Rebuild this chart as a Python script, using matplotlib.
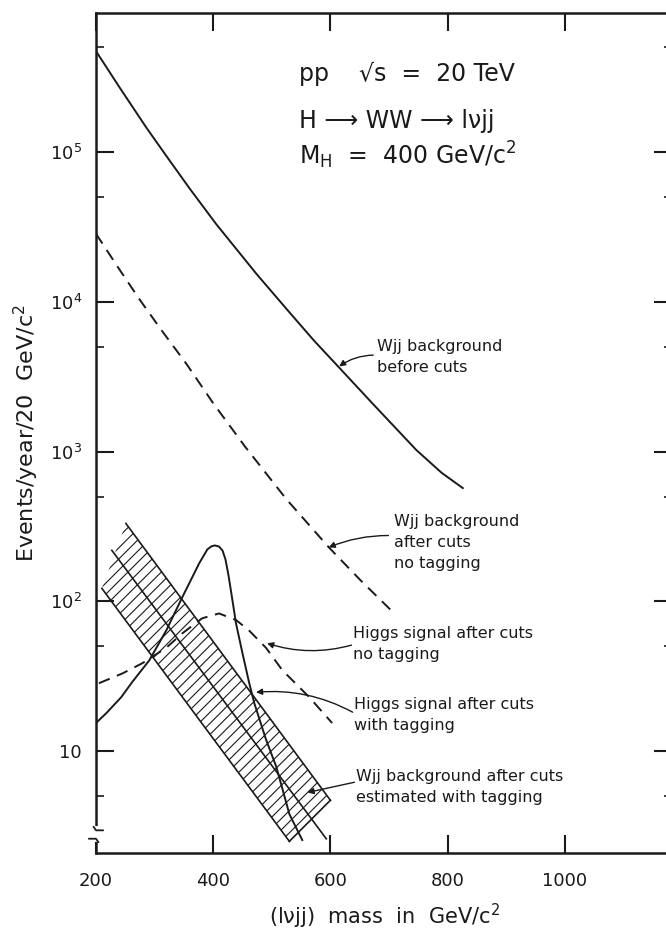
import numpy as np
import matplotlib
matplotlib.use("Agg")
import matplotlib.pyplot as plt
from matplotlib.ticker import FixedLocator, NullFormatter

# --- data (mass in GeV/c^2, events/year/20 GeV/c^2) ---
bg_before_mass = [200, 240, 286, 320, 359, 405, 474, 530, 572, 615, 672, 747, 790, 826]
bg_before_evts = [4.7e5, 2.7e5, 1.45e5, 9.4e4, 5.75e4, 3.3e4, 1.53e4, 8.5e3, 5.5e3,
                  3.63e3, 2.09e3, 1.02e3, 7.2e2, 5.7e2]

bg_after_mass = [200, 240, 277, 315, 354, 400, 455, 525, 597, 650, 709]
bg_after_evts = [2.84e4, 1.64e4, 1.0e4, 6.2e3, 3.86e3, 2.1e3, 1.07e3, 4.8e2, 2.3e2, 1.4e2, 83]

hig_tag_mass = [200, 218, 234, 243, 262, 291, 320, 347, 376, 390, 397, 403, 410,
                416, 421, 426, 431, 439, 450, 461, 470, 490, 508, 530, 552]
hig_tag_evts = [15.4, 18, 21, 22.9, 29, 40.4, 64, 106, 179, 222, 233, 236, 232,
                218, 190, 150, 113, 71, 45, 29, 21, 12, 7.8, 3.8, 2.55]

hig_notag_mass = [205, 245, 279, 320, 347, 381, 410, 439, 461, 490, 518, 564, 603]
hig_notag_evts = [28.4, 33, 38.6, 49, 61, 77, 83, 75, 64, 49, 34.7, 22.9, 15.4]

# hatched band (background after cuts, with tagging): edge end points
band_upper_mass = [251, 600]
band_upper_evts = [331, 4.7]
band_lower_mass = [210, 530]
band_lower_evts = [122, 2.5]
band_mid_mass = [227, 593]
band_mid_evts = [219, 2.6]

x_ticks = [200, 400, 600, 800, 1000]
x_ticklabels = ["200", "400", "600", "800", "1000"]
y_ticks = [10, 1e2, 1e3, 1e4, 1e5]
y_ticklabels = ["10", "$10^2$", "$10^3$", "$10^4$", "$10^5$"]
y_minor = [5, 50, 5e2, 5e3, 5e4, 5e5]

ink = "#1a1a1a"
plt.rcParams["font.family"] = ["DejaVu Sans"]
plt.rcParams["hatch.linewidth"] = 0.8

fig = plt.figure(figsize=(6.66, 9.33), dpi=100)
ax = fig.add_axes([96 / 666, 80 / 933, 576 / 666, 840 / 933])
ax.set_yscale("log")
ax.set_xlim(200, 1183)
ax.set_ylim(2.09, 8.45e5)

lw = 1.4
ax.plot(bg_before_mass, bg_before_evts, color=ink, lw=lw)
ax.plot(bg_after_mass, bg_after_evts, color=ink, lw=lw, dashes=(6, 4))
ax.plot(hig_tag_mass, hig_tag_evts, color=ink, lw=lw)
ax.plot(hig_notag_mass, hig_notag_evts, color=ink, lw=lw, dashes=(6, 4))

# band
bx = [band_lower_mass[0], band_lower_mass[1], band_upper_mass[1], band_upper_mass[0]]
by = [band_lower_evts[0], band_lower_evts[1], band_upper_evts[1], band_upper_evts[0]]
ax.fill(bx, by, facecolor="none", edgecolor=ink, linewidth=0, hatch="///")
ax.plot(band_upper_mass, band_upper_evts, color=ink, lw=1.2)
ax.plot(band_lower_mass, band_lower_evts, color=ink, lw=1.2)
ax.plot(band_mid_mass, band_mid_evts, color=ink, lw=1.2)
ax.plot([band_lower_mass[1], band_upper_mass[1]], [band_lower_evts[1], band_upper_evts[1]],
        color=ink, lw=1.2)

# axes styling
for s in ax.spines.values():
    s.set_linewidth(1.8)
    s.set_color(ink)
ax.xaxis.set_major_locator(FixedLocator(x_ticks))
ax.set_xticklabels(x_ticklabels)
ax.yaxis.set_major_locator(FixedLocator(y_ticks))
ax.set_yticklabels(y_ticklabels)
ax.yaxis.set_minor_locator(FixedLocator(y_minor))
ax.yaxis.set_minor_formatter(NullFormatter())
ax.xaxis.set_minor_locator(FixedLocator([]))
ax.tick_params(which="major", direction="in", length=13, width=1.5, color=ink,
               labelsize=13, top=True, right=True, pad=10, labelcolor=ink)
ax.tick_params(which="minor", direction="in", length=6, width=1.2, color=ink,
               right=True)
ax.tick_params(axis="x", pad=14)

ax.set_xlabel("(l\u03bdjj)  mass  in  GeV/c$^2$", fontsize=15, color=ink, labelpad=8)
ax.set_ylabel("Events/year/20  GeV/c$^2$", fontsize=16, color=ink, labelpad=6)

# y-axis break mark
tb = ax.transAxes
ax.plot([0, 0], [0.017, 0.03], transform=tb, color="white", lw=3.5, clip_on=False, zorder=5)
ax.plot([-0.004, 0.0, 0.012], [0.031, 0.027, 0.027], transform=tb, color=ink, lw=1.3,
        clip_on=False, zorder=6)
ax.plot([-0.012, 0.0, 0.004], [0.017, 0.017, 0.013], transform=tb, color=ink, lw=1.3,
        clip_on=False, zorder=6)

# header text
ax.text(547, 3.3e5, "pp    \u221as  =  20 TeV", fontsize=17, color=ink, va="center")
ax.text(547, 1.6e5, "H \u27f6 WW \u27f6 l\u03bdjj", fontsize=17, color=ink, va="center")
ax.text(547, 9.5e4, "M$_\\mathrm{H}$  =  400 GeV/c$^2$", fontsize=17, color=ink, va="center")

# annotations: text, text top-left, arrow start, arrow tip, curvature
notes = [
    ("Wjj background\nbefore cuts", (679, 5.6e3), (673, 4.4e3), (615, 3.7e3), 0.15),
    ("Wjj background\nafter cuts\nno tagging", (709, 380), (699, 275), (597, 229), 0.1),
    ("Higgs signal after cuts\nno tagging", (638, 68), (636, 51), (492, 52.5), -0.15),
    ("Higgs signal after cuts\nwith tagging", (641, 23), (638, 18.2), (473, 24.7), 0.15),
    ("Wjj background after cuts\nestimated with tagging", (644, 7.6), (641, 6.2), (561, 5.3), 0.0),
]
for txt, tpos, start, end, rad in notes:
    ax.text(tpos[0], tpos[1], txt, fontsize=11.5, color=ink, va="top", ha="left",
            linespacing=1.5)
    ax.annotate("", xy=end, xytext=start,
                arrowprops=dict(arrowstyle="-|>", color=ink, lw=1.0,
                                mutation_scale=9,
                                connectionstyle=f"arc3,rad={rad}",
                                shrinkA=0, shrinkB=0))

fig.savefig("out.png", dpi=100)
